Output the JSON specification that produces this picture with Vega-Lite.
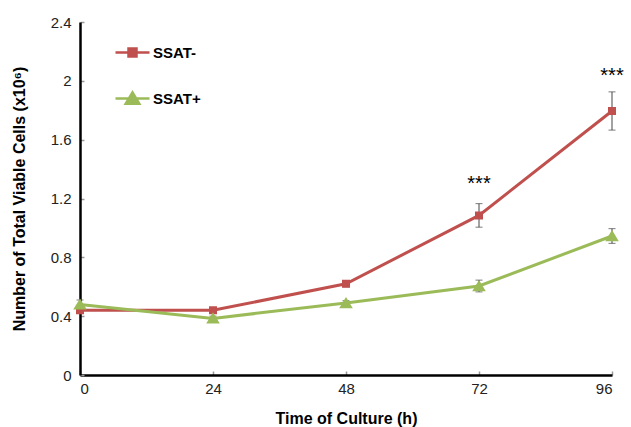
{
  "$schema": "https://vega.github.io/schema/vega-lite/v6.json",
  "autosize": "none",
  "width": 532,
  "height": 353,
  "padding": {"left": 80, "top": 22, "right": 19, "bottom": 52},
  "background": "white",
  "config": {
    "view": {"stroke": null},
    "font": "Liberation Sans",
    "axis": {
      "grid": false,
      "domainColor": "black",
      "domainWidth": 2.5,
      "tickColor": "#999999",
      "tickSize": -4,
      "tickWidth": 1.5,
      "labelFont": "Liberation Sans",
      "labelFontSize": 15,
      "labelColor": "#222222",
      "titleFont": "Liberation Sans",
      "titleFontSize": 16,
      "titleFontWeight": "bold",
      "titleColor": "black"
    }
  },
  "datasets": {
    "series": [
      {"time": 0, "group": "SSAT-", "cells": 0.44, "lo": 0.42, "hi": 0.46},
      {"time": 24, "group": "SSAT-", "cells": 0.44, "lo": 0.425, "hi": 0.455},
      {"time": 48, "group": "SSAT-", "cells": 0.62, "lo": 0.60, "hi": 0.64},
      {"time": 72, "group": "SSAT-", "cells": 1.085, "lo": 1.005, "hi": 1.165},
      {"time": 96, "group": "SSAT-", "cells": 1.795, "lo": 1.665, "hi": 1.925},
      {"time": 0, "group": "SSAT+", "cells": 0.48, "lo": 0.45, "hi": 0.51},
      {"time": 24, "group": "SSAT+", "cells": 0.385, "lo": 0.37, "hi": 0.40},
      {"time": 48, "group": "SSAT+", "cells": 0.49, "lo": 0.475, "hi": 0.505},
      {"time": 72, "group": "SSAT+", "cells": 0.605, "lo": 0.565, "hi": 0.645},
      {"time": 96, "group": "SSAT+", "cells": 0.945, "lo": 0.895, "hi": 0.995}
    ],
    "stars": [
      {"time": 72, "y": 1.3, "label": "***"},
      {"time": 96, "y": 2.03, "label": "***"}
    ]
  },
  "layer": [
    {
      "data": {"name": "series"},
      "mark": {"type": "rule", "color": "#444444", "strokeWidth": 1},
      "encoding": {
        "x": {"field": "time", "type": "quantitative"},
        "y": {"field": "lo", "type": "quantitative"},
        "y2": {"field": "hi"}
      }
    },
    {
      "data": {"name": "series"},
      "mark": {"type": "tick", "color": "#444444", "thickness": 1, "size": 7, "orient": "horizontal"},
      "encoding": {
        "x": {"field": "time", "type": "quantitative"},
        "y": {"field": "lo", "type": "quantitative"}
      }
    },
    {
      "data": {"name": "series"},
      "mark": {"type": "tick", "color": "#444444", "thickness": 1, "size": 7, "orient": "horizontal"},
      "encoding": {
        "x": {"field": "time", "type": "quantitative"},
        "y": {"field": "hi", "type": "quantitative"}
      }
    },
    {
      "data": {"name": "series"},
      "mark": {"type": "line", "strokeWidth": 3},
      "encoding": {
        "x": {
          "field": "time", "type": "quantitative",
          "scale": {"domain": [0, 96], "nice": false, "zero": false},
          "axis": {"values": [0, 24, 48, 72, 96], "title": "Time of Culture (h)", "labelPadding": 10, "titlePadding": 14}
        },
        "y": {
          "field": "cells", "type": "quantitative",
          "scale": {"domain": [0, 2.4], "nice": false},
          "axis": {"values": [0, 0.4, 0.8, 1.2, 1.6, 2, 2.4], "format": "~g", "title": "Number of Total Viable Cells (x10⁶)", "labelPadding": 13, "titlePadding": 23}
        },
        "color": {
          "field": "group", "type": "nominal",
          "scale": {"domain": ["SSAT-", "SSAT+"], "range": ["#c0504d", "#9bbb59"]},
          "legend": {
            "orient": "none",
            "legendX": 45,
            "legendY": 23,
            "title": null,
            "padding": 0,
            "symbolSize": 64,
            "symbolStrokeWidth": 2.5,
            "labelOffset": 13,
            "rowPadding": 25,
            "labelFont": "Liberation Sans",
            "labelFontSize": 15,
            "labelFontWeight": "bold",
            "labelColor": "black"
          }
        }
      }
    },
    {
      "data": {"name": "series"},
      "mark": {"type": "point", "filled": true, "opacity": 1, "size": 64},
      "encoding": {
        "x": {"field": "time", "type": "quantitative"},
        "y": {"field": "cells", "type": "quantitative"},
        "color": {
          "field": "group", "type": "nominal",
          "scale": {"domain": ["SSAT-", "SSAT+"], "range": ["#c0504d", "#9bbb59"]}
        },
        "shape": {
          "field": "group", "type": "nominal",
          "scale": {"domain": ["SSAT-", "SSAT+"], "range": ["M-4.25,0H4.25M-1,-1H1V1H-1Z", "M-4.25,0H4.25M0,-1.5L1.7,1.3L-1.7,1.3Z"]},
          "legend": null
        }
      }
    },
    {
      "data": {"name": "stars"},
      "mark": {"type": "text", "font": "Liberation Sans", "fontSize": 20, "color": "black", "baseline": "middle"},
      "encoding": {
        "x": {"field": "time", "type": "quantitative"},
        "y": {"field": "y", "type": "quantitative"},
        "text": {"field": "label"}
      }
    }
  ]
}
